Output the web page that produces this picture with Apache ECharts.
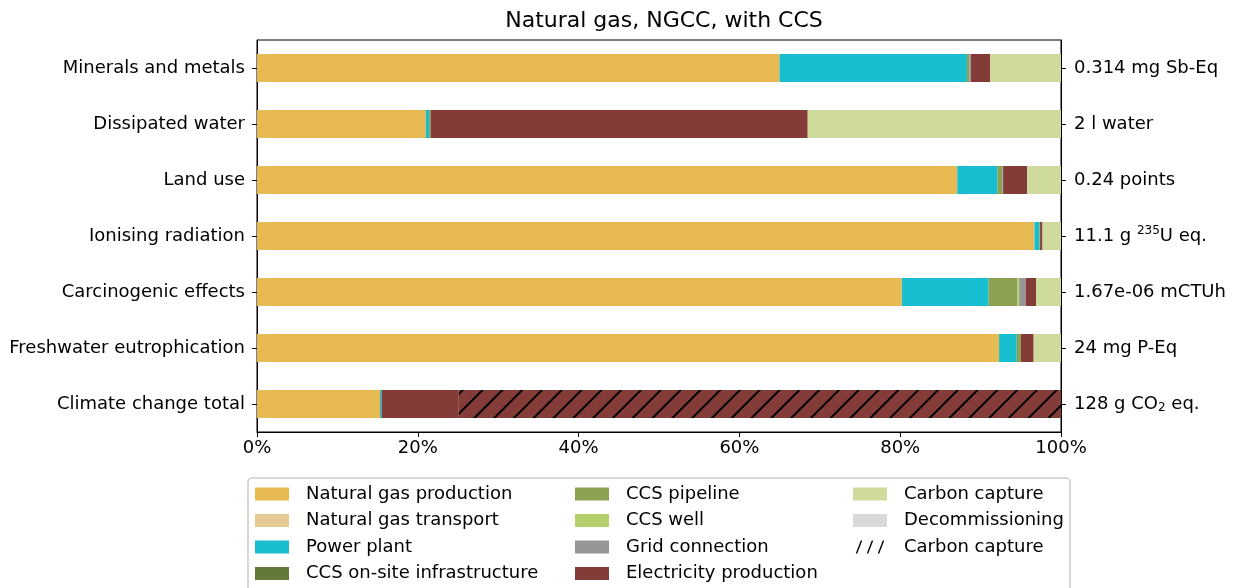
<!DOCTYPE html>
<html>
<head>
<meta charset="utf-8">
<script src="https://cdn.jsdelivr.net/npm/echarts@6/dist/echarts.min.js"></script>
<style>
  html, body { margin: 0; padding: 0; background: #fff; }
  #chart { width: 1234px; height: 588px; }
</style>
</head>
<body>
<div id="chart"></div>
<script>
// categories top to bottom
const categories = ['Minerals and metals', 'Dissipated water', 'Land use', 'Ionising radiation',
  'Carcinogenic effects', 'Freshwater eutrophication', 'Climate change total'];
// totals shown on the right
const totals = ['0.314 mg Sb-Eq', '2 l water', '0.24 points', '11.1 g {sup|235}U eq.',
  '1.67e-06 mCTUh', '24 mg P-Eq', '128 g CO{sub|2} eq.'];
const xTicks = [0, 20, 40, 60, 80, 100];

// shares in % per category (same order as categories)
const naturalGasProduction = [65.0, 21.0, 87.1, 96.7, 80.2, 92.3, 15.3];
const naturalGasTransport  = [0, 0, 0, 0, 0, 0, 0];
const powerPlant           = [23.3, 0.4, 5.0, 0.6, 10.8, 2.2, 0.2];
const ccsOnSite            = [0, 0, 0, 0, 0, 0, 0];
const ccsPipeline          = [0.3, 0.2, 0.6, 0.1, 3.6, 0.5, 0];
const ccsWell              = [0, 0, 0, 0, 0.2, 0, 0];
const gridConnection       = [0.2, 0, 0.1, 0, 0.8, 0, 0];
const electricityProd      = [2.4, 46.9, 3.0, 0.3, 1.3, 1.6, 9.6];
const carbonCapture        = [8.8, 31.5, 4.2, 2.3, 3.1, 3.4, 0];
const decommissioning      = [0, 0, 0, 0, 0, 0, 0];
const carbonCaptureHatched = [0, 0, 0, 0, 0, 0, 74.9];

const HATCH = 'Carbon capture (hatched)';

const stages = [
  ['Natural gas production', naturalGasProduction, '#e7ba52'],
  ['Natural gas transport', naturalGasTransport, '#e7cb94'],
  ['Power plant', powerPlant, '#17becf'],
  ['CCS on-site infrastructure', ccsOnSite, '#637939'],
  ['CCS pipeline', ccsPipeline, '#8ca252'],
  ['CCS well', ccsWell, '#b5cf6b'],
  ['Grid connection', gridConnection, '#969696'],
  ['Electricity production', electricityProd, '#843c39'],
  ['Carbon capture', carbonCapture, '#cedb9c'],
  ['Decommissioning', decommissioning, '#d9d9d9']
];

const series = stages.map(s => ({
  name: s[0], type: 'bar', stack: 'total', barWidth: 28,
  itemStyle: { color: s[2] },
  data: s[1]
}));
series.push({
  name: HATCH, type: 'bar', stack: 'total', barWidth: 28,
  itemStyle: {
    color: '#843c39',
    decal: {
      symbol: 'rect', symbolSize: 1, color: '#000',
      dashArrayX: [1, 0], dashArrayY: [2, 12], rotation: -Math.PI / 4
    }
  },
  data: carbonCaptureHatched
});

const font = 'DejaVu Sans';
const legendText = { fontFamily: font, fontSize: 18, color: '#000', lineHeight: 20, padding: [0, 0, 0, 12] };
function legendCol(left, names) {
  return {
    orient: 'vertical', left: left, top: 484, padding: 0,
    itemWidth: 34, itemHeight: 13, itemGap: 6.5, icon: 'rect',
    textStyle: legendText,
    formatter: n => n === HATCH ? 'Carbon capture' : n,
    selectedMode: false,
    data: names
  };
}

const chart = echarts.init(document.getElementById('chart'));
chart.setOption({
  animation: false,
  title: {
    text: 'Natural gas, NGCC, with CCS', left: 659, top: 5, textAlign: 'center',
    textStyle: { fontFamily: font, fontSize: 22, fontWeight: 'normal', color: '#000' }
  },
  grid: { left: 257, right: 173, top: 40, bottom: 156, show: true, borderColor: '#000', borderWidth: 1 },
  xAxis: {
    type: 'value', min: xTicks[0], max: xTicks[xTicks.length - 1], interval: 20,
    axisLine: { show: true, lineStyle: { color: '#000', width: 1 } },
    axisTick: { show: true, length: 5, lineStyle: { color: '#000' } },
    splitLine: { show: false },
    axisLabel: { formatter: '{value}%', fontFamily: font, fontSize: 18, color: '#000', margin: 7 }
  },
  yAxis: [{
    type: 'category', inverse: true, data: categories,
    axisLine: { show: true, lineStyle: { color: '#000' } },
    axisTick: { show: true, length: 5, alignWithLabel: true, lineStyle: { color: '#000' } },
    axisLabel: { fontFamily: font, fontSize: 18, color: '#000', margin: 12 }
  }, {
    type: 'category', inverse: true, position: 'right', data: totals,
    axisLine: { show: true, lineStyle: { color: '#000' } },
    axisTick: { show: true, length: 5, alignWithLabel: true, lineStyle: { color: '#000' } },
    axisLabel: {
      fontFamily: font, fontSize: 18, color: '#000', margin: 13,
      rich: {
        sup: { fontFamily: font, fontSize: 12, color: '#000', padding: [0, 0, 10, 0] },
        sub: { fontFamily: font, fontSize: 12, color: '#000', padding: [8, 0, 0, 0] }
      }
    }
  }],
  legend: [
    legendCol(255, ['Natural gas production', 'Natural gas transport', 'Power plant', 'CCS on-site infrastructure']),
    legendCol(575, ['CCS pipeline', 'CCS well', 'Grid connection', 'Electricity production']),
    legendCol(853, ['Carbon capture', 'Decommissioning', {
      name: HATCH,
      icon: 'path://M0,13 L1.5,13 L6.5,0 L5,0 Z M11,13 L12.5,13 L17.5,0 L16,0 Z M22,13 L23.5,13 L28.5,0 L27,0 Z',
      itemStyle: { color: '#000', decal: 'none' }
    }])
  ],
  graphic: [{
    type: 'rect', z: -1, silent: true,
    shape: { x: 248, y: 478, width: 822, height: 130, r: 4 },
    style: { fill: '#fff', stroke: '#cccccc', lineWidth: 1.5 }
  }],
  series: series
});
</script>
</body>
</html>
